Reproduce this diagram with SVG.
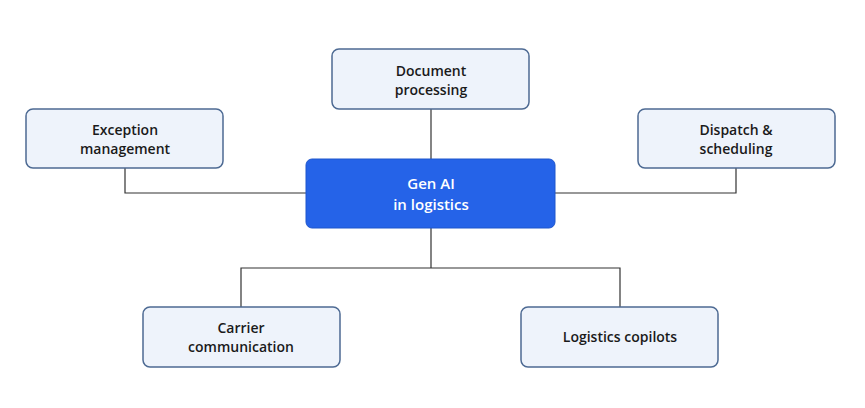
<svg xmlns="http://www.w3.org/2000/svg" width="865" height="408" viewBox="0 0 865 408">
<style>
.n{fill:#eef3fb;stroke:#4d6a93;stroke-width:1.5}
.c{fill:#2563e8;stroke:#1f56cc;stroke-width:1}
.t{font-family:"Open Sans","Noto Sans",sans-serif;font-weight:600;font-size:14px;fill:#1a1a1a;text-anchor:middle}
.w{fill:#ffffff;font-size:15px}
.l{fill:none;stroke:#333;stroke-width:1.2}
</style>
<rect width="865" height="408" fill="#fff"/>
<g id="connectors" class="l">
<path d="M431 109V159"/>
<path d="M125 168V193H306"/>
<path d="M736 168V193H555"/>
<path d="M431 228V268M241 307V268H620V307"/>
</g>
<g id="center"><rect class="c" x="306" y="159" width="249" height="69" rx="6"/><text class="t w" x="431" y="189">Gen AI</text><text class="t w" x="431" y="210">in logistics</text></g>
<g id="doc"><rect class="n" x="332" y="49" width="197" height="60" rx="7"/><text class="t" x="431" y="76">Document</text><text class="t" x="431" y="95">processing</text></g>
<g id="exc"><rect class="n" x="26" y="109" width="197" height="59" rx="7"/><text class="t" x="125" y="135">Exception</text><text class="t" x="125" y="154">management</text></g>
<g id="disp"><rect class="n" x="638" y="109" width="197" height="59" rx="7"/><text class="t" x="736" y="135">Dispatch &amp;</text><text class="t" x="736" y="154">scheduling</text></g>
<g id="carrier"><rect class="n" x="143" y="307" width="197" height="60" rx="7"/><text class="t" x="241" y="333">Carrier</text><text class="t" x="241" y="352">communication</text></g>
<g id="copilots"><rect class="n" x="521" y="307" width="197" height="60" rx="7"/><text class="t" x="620" y="342">Logistics copilots</text></g>
</svg>
